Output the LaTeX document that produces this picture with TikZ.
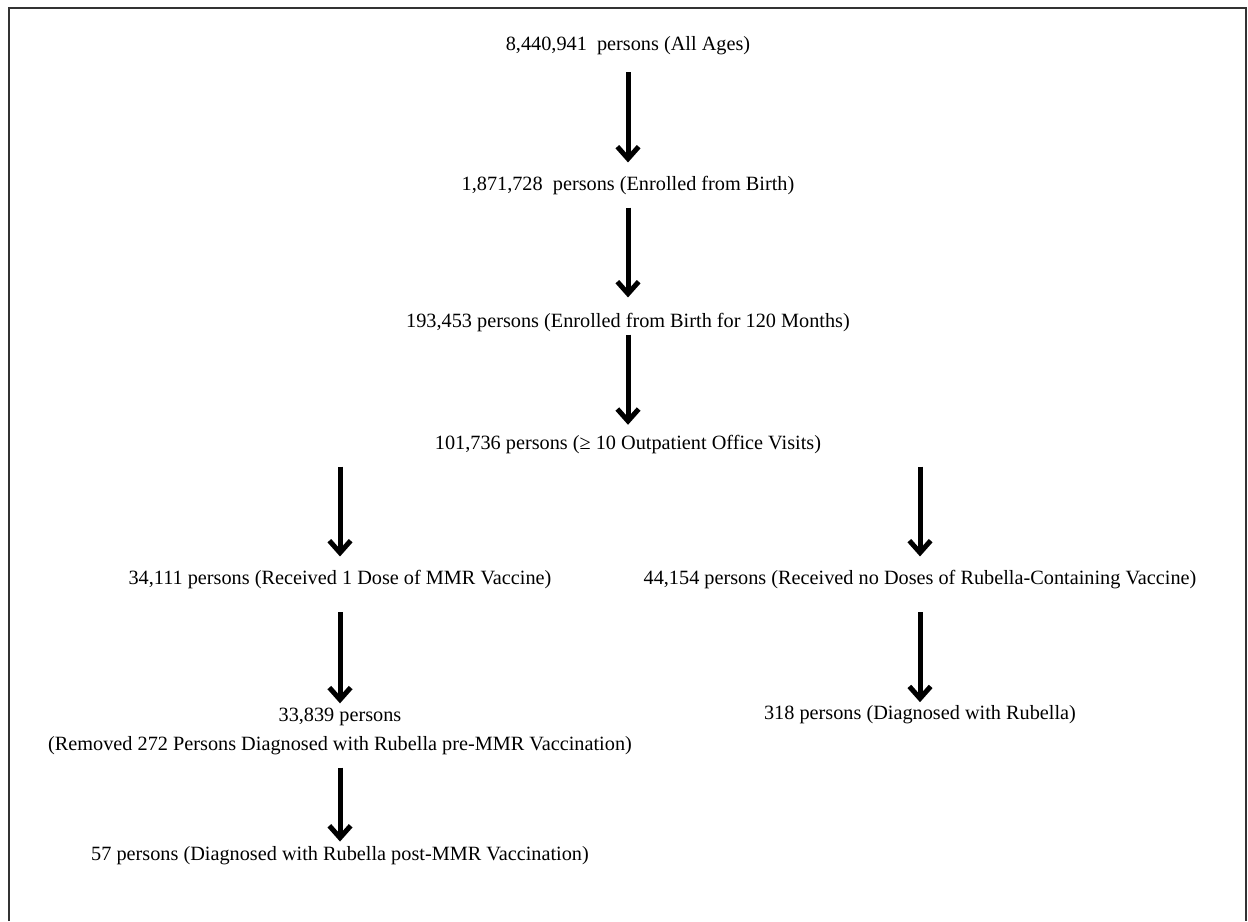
\documentclass[tikz,border=0pt]{standalone}
\usepackage{fontspec}
\setmainfont{Liberation Serif}
\usetikzlibrary{arrows.meta, positioning}

\begin{document}
\begin{tikzpicture}[x=0.75pt, y=-0.75pt, on grid, node distance=100pt,
      >={Straight Barb[length=9pt,width=16pt]},
      box/.style={inner sep=0pt, font=\fontsize{15.2}{21.75}\selectfont, align=center},
      flow/.style={->, line width=3.75pt, shorten <=9pt, shorten >=9pt}]
      \useasboundingbox (0,0) rectangle (1248,921);
      \draw[line width=1.5pt, black!80] (9,921) -- (9,8) -- (1246,8) -- (1246,921);
      % cohort selection
      \node[box] (all) at (628,46) {8,440,941\ \ persons (All Ages)};
      \node[box] (birth) [below=105pt of all] {1,871,728\ \ persons (Enrolled from Birth)};
      \node[box] (months) [below=102.75pt of birth] {193,453 persons (Enrolled from Birth for 120 Months)};
      \node[box] (visits) [below=91.5pt of months] {101,736 persons (≥ 10 Outpatient Office Visits)};
      \node[box] (mmr) [below left=101.25pt and 216pt of visits] {34,111 persons (Received 1 Dose of MMR Vaccine)};
      \node[box] (nodose) [below right=101.25pt and 219pt of visits] {44,154 persons (Received no Doses of Rubella-Containing Vaccine)};
      \node[box] (removed) [below=113.25pt of mmr] {33,839 persons\\(Removed 272 Persons Diagnosed with Rubella pre-MMR Vaccination)};
      \node[box] (rubella) [below=101.25pt of nodose] {318 persons (Diagnosed with Rubella)};
      \node[box] (post) [below=93.75pt of removed] {57 persons (Diagnosed with Rubella post-MMR Vaccination)};
      \draw[flow, shorten <=12.75pt, shorten >=10.5pt] (all) -- (birth);
      \draw[flow, shorten <=9pt, shorten >=12pt] (birth) -- (months);
      \draw[flow, shorten <=1.5pt, shorten >=8pt] (months) -- (visits);
      \draw[flow, shorten >=10.5pt] (visits.south -| mmr) -- (mmr);
      \draw[flow, shorten >=10.5pt] (visits.south -| nodose) -- (nodose);
      \draw[flow, shorten <=17pt, shorten >=3pt] (mmr) -- (removed);
      \draw[flow, shorten <=17pt, shorten >=2.5pt] (nodose) -- (rubella);
      \draw[flow, shorten <=9.75pt, shorten >=3.75pt] (removed) -- (post);
\end{tikzpicture}
\end{document}
